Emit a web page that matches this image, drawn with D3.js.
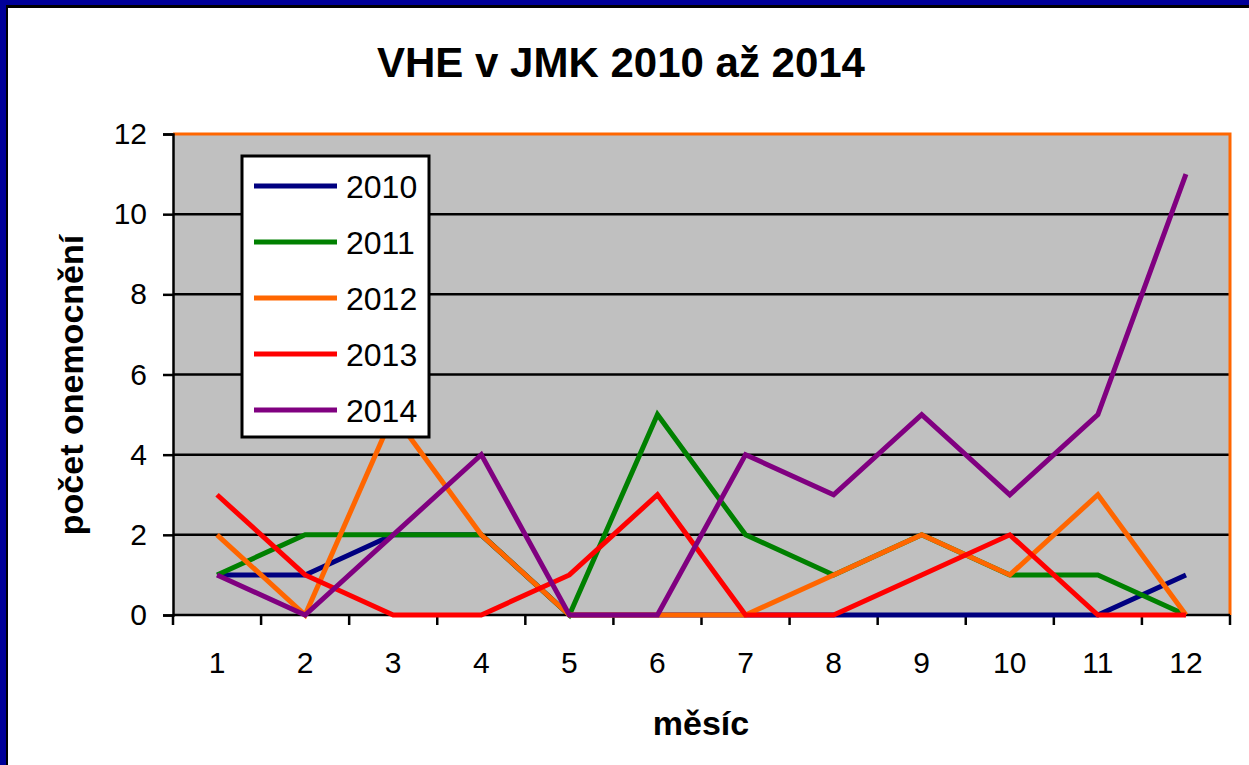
<!DOCTYPE html>
<html>
<head>
<meta charset="utf-8">
<script src="https://cdn.jsdelivr.net/npm/d3@7"></script>
<style>
  html, body { margin: 0; padding: 0; background: #fff; }
  svg { display: block; font-family: "Liberation Sans", Arial, sans-serif; }
</style>
</head>
<body>
<svg id="chart" width="1249" height="765"></svg>
<script>
// Monthly case counts per year
const months = [1, 2, 3, 4, 5, 6, 7, 8, 9, 10, 11, 12];
const years = ["2010", "2011", "2012", "2013", "2014"];
const cases2010 = [1, 1, 2, 2, 0, 0, 0, 0, 0, 0, 0, 1];
const cases2011 = [1, 2, 2, 2, 0, 5, 2, 1, 2, 1, 1, 0];
const cases2012 = [2, 0, 5, 2, 0, 0, 0, 1, 2, 1, 3, 0];
const cases2013 = [3, 1, 0, 0, 1, 3, 0, 0, 1, 2, 0, 0];
const cases2014 = [1, 0, 2, 4, 0, 0, 4, 3, 5, 3, 5, 11];
const yTicks = [0, 2, 4, 6, 8, 10, 12];
const colors = ["#000080", "#008000", "#FF6600", "#FF0000", "#800080"];

const seriesValues = [cases2010, cases2011, cases2012, cases2013, cases2014];
const series = years.map((y, i) => ({ name: y, color: colors[i], values: seriesValues[i] }));

const svg = d3.select("#chart");
const W = 1249, H = 765;

// Frame: blue edge with a thin black inner line (top and left)
svg.append("rect").attr("x", 0).attr("y", 0).attr("width", W).attr("height", H).attr("fill", "#000099");
svg.append("rect").attr("x", 6).attr("y", 5).attr("width", W).attr("height", H).attr("fill", "#000");
svg.append("rect").attr("x", 8).attr("y", 8).attr("width", W).attr("height", H).attr("fill", "#fff");

const plot = { left: 173, top: 134, right: 1230, bottom: 615 };

const x = d3.scaleBand().domain(months).range([plot.left, plot.right]).padding(0);
const y = d3.scaleLinear().domain([0, 12]).range([plot.bottom, plot.top]);

// Plot area background
svg.append("rect")
  .attr("x", plot.left).attr("y", plot.top)
  .attr("width", plot.right - plot.left).attr("height", plot.bottom - plot.top)
  .attr("fill", "#C0C0C0");

// Horizontal gridlines
svg.append("g")
  .selectAll("line")
  .data(yTicks.filter(t => t > 0 && t < 12))
  .join("line")
  .attr("x1", plot.left).attr("x2", plot.right)
  .attr("y1", d => y(d)).attr("y2", d => y(d))
  .attr("stroke", "#000").attr("stroke-width", 2.5);

// Orange plot border (top and right)
svg.append("path")
  .attr("d", `M${plot.left},${plot.top}H${plot.right}V${plot.bottom}`)
  .attr("fill", "none").attr("stroke", "#FF6600").attr("stroke-width", 3);

// Y axis
const yAxis = d3.axisLeft(y).tickValues(yTicks).tickSize(10).tickPadding(16);
const gy = svg.append("g").attr("transform", `translate(${plot.left},0)`).call(yAxis);
gy.select(".domain").attr("stroke", "#000").attr("stroke-width", 2.5);
gy.selectAll(".tick line").attr("stroke", "#000").attr("stroke-width", 2.5);
gy.selectAll(".tick text").attr("font-size", 30).attr("fill", "#000")
  .attr("font-family", "'Liberation Sans', Arial, sans-serif");

// X axis: ticks at band boundaries, labels at band centers
const gx = svg.append("g").attr("transform", `translate(0,${plot.bottom})`);
gx.append("line").attr("x1", plot.left).attr("x2", plot.right)
  .attr("stroke", "#000").attr("stroke-width", 2.5);
const boundaries = months.map(m => x(m)).concat([x(months[months.length - 1]) + x.bandwidth()]);
gx.selectAll("line.tk").data(boundaries).join("line").attr("class", "tk")
  .attr("x1", d => d).attr("x2", d => d).attr("y1", 0).attr("y2", 10)
  .attr("stroke", "#000").attr("stroke-width", 2.5);
gx.selectAll("text").data(months).join("text")
  .attr("x", d => x(d) + x.bandwidth() / 2)
  .attr("y", 58)
  .attr("text-anchor", "middle")
  .attr("font-size", 30)
  .text(d => d);

// Series lines
const line = d3.line()
  .x((d, i) => x(months[i]) + x.bandwidth() / 2)
  .y(d => y(d));

svg.append("g").selectAll("path")
  .data(series)
  .join("path")
  .attr("d", d => line(d.values))
  .attr("fill", "none")
  .attr("stroke", d => d.color)
  .attr("stroke-width", 5)
  .attr("stroke-linejoin", "miter");

// Legend
const lg = svg.append("g");
lg.append("rect").attr("x", 242).attr("y", 156).attr("width", 187).attr("height", 281)
  .attr("fill", "#fff").attr("stroke", "#000").attr("stroke-width", 3);
const rowY = d3.scalePoint().domain(years).range([186, 410]);
const rows = lg.selectAll("g.row").data(series).join("g").attr("class", "row")
  .attr("transform", d => `translate(0,${rowY(d.name)})`);
rows.append("line").attr("x1", 254).attr("x2", 337)
  .attr("stroke", d => d.color).attr("stroke-width", 5);
rows.append("text").attr("x", 346).attr("dy", "0.36em")
  .attr("font-size", 32).text(d => d.name);

// Title and axis titles
svg.append("text").attr("x", 621).attr("y", 77).attr("text-anchor", "middle")
  .attr("font-size", 42).attr("font-weight", "bold").text("VHE v JMK 2010 až 2014");
svg.append("text").attr("x", 701).attr("y", 735).attr("text-anchor", "middle")
  .attr("font-size", 34).attr("font-weight", "bold").text("měsíc");
svg.append("text").attr("transform", "translate(83,385) rotate(-90)").attr("text-anchor", "middle")
  .attr("font-size", 34).attr("font-weight", "bold").text("počet onemocnění");
</script>
</body>
</html>
